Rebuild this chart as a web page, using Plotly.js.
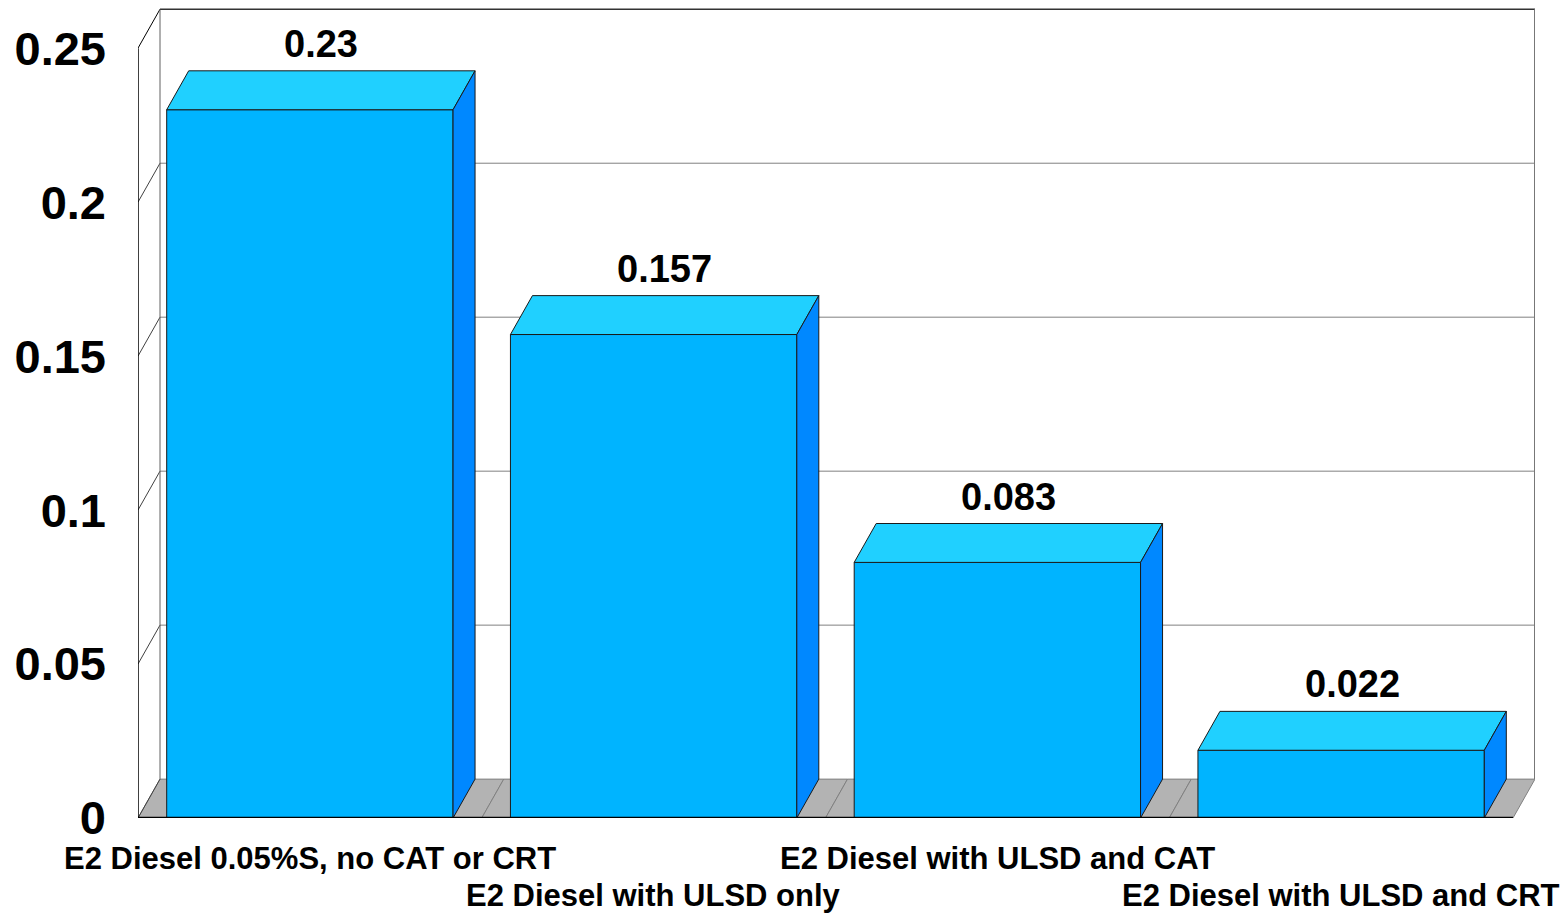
<!DOCTYPE html>
<html>
<head>
<meta charset="utf-8">
<script src="https://cdn.plot.ly/plotly-3.0.1.min.js"></script>
<style>html,body{margin:0;padding:0;background:#fff;}#chart{width:1566px;height:913px;}</style>
</head>
<body>
<div id="chart"></div>
<script>
// ---- data ----
const categories = [
  'E2 Diesel 0.05%S, no CAT or CRT',
  'E2 Diesel with ULSD only',
  'E2 Diesel with ULSD and CAT',
  'E2 Diesel with ULSD and CRT'
];
const values = [0.23, 0.157, 0.083, 0.022];
const valueLabels = ['0.23', '0.157', '0.083', '0.022'];
const yTickVals = [0, 0.05, 0.1, 0.15, 0.2, 0.25];
const yTickText = ['0', '0.05', '0.1', '0.15', '0.2', '0.25'];

// ---- 3D look parameters (depth in axis units) ----
const DX = 0.064;     // depth offset along x (category units)
const DY = 0.01263;   // depth offset along y (value units)
const BW = 0.833;     // bar width
const YMAX = 0.25;
const FONT = 'Arial, "Liberation Sans", sans-serif';

const xs = categories.map((c, i) => i);
const xMin = -0.5, xMax = categories.length - 0.5;

// ---- background shapes (floor, walls, grid) ----
const shapes = [];
// floor segments
xs.forEach(i => {
  const a = i - 0.5, b = i + 0.5;
  shapes.push({type: 'path', layer: 'below', xref: 'x', yref: 'y',
    path: `M${a},0 L${b},0 L${b + DX},${DY} L${a + DX},${DY} Z`,
    fillcolor: '#b3b3b3', line: {color: '#808080', width: 1}});
});
// gridlines on back wall + diagonals on left wall
yTickVals.forEach(v => {
  if (v > 0) {
    shapes.push({type: 'line', layer: 'below', xref: 'x', yref: 'y',
      x0: xMin + DX, x1: xMax + DX, y0: v + DY, y1: v + DY,
      line: {color: v === YMAX ? '#333333' : '#808080', width: v === YMAX ? 1.5 : 1}});
  }
  shapes.push({type: 'line', layer: 'below', xref: 'x', yref: 'y',
    x0: xMin, x1: xMin + DX, y0: v, y1: v + DY,
    line: {color: v === YMAX ? '#000000' : '#404040', width: 1}});
});
// back wall left edge
shapes.push({type: 'line', layer: 'below', xref: 'x', yref: 'y',
  x0: xMin + DX, x1: xMin + DX, y0: DY, y1: YMAX + DY, line: {color: '#606060', width: 1}});
// back wall right edge
shapes.push({type: 'line', layer: 'below', xref: 'x', yref: 'y',
  x0: xMax + DX, x1: xMax + DX, y0: DY, y1: YMAX + DY, line: {color: '#777777', width: 2}});
// left wall front edge
shapes.push({type: 'line', layer: 'above', xref: 'x', yref: 'y',
  x0: xMin, x1: xMin, y0: 0, y1: YMAX, line: {color: '#000000', width: 1.5}});
// front floor edge
shapes.push({type: 'line', layer: 'above', xref: 'x', yref: 'y',
  x0: xMin, x1: xMax, y0: 0, y1: 0, line: {color: '#000000', width: 2.5}});

// ---- bar faces ----
const topX = [], topY = [], sideX = [], sideY = [];
xs.forEach((i, k) => {
  const v = values[k], l = i - BW / 2, r = i + BW / 2;
  topX.push(l, r, r + DX, l + DX, l, null);
  topY.push(v, v, v + DY, v + DY, v, null);
  sideX.push(r, r + DX, r + DX, r, r, null);
  sideY.push(0, DY, v + DY, v, 0, null);
});

const traces = [
  {type: 'bar', x: xs, y: values, width: BW,
    marker: {color: '#00b4ff', line: {color: '#1a1a1a', width: 1}},
    hoverinfo: 'skip', showlegend: false},
  {type: 'scatter', mode: 'lines', x: topX, y: topY, fill: 'toself',
    fillcolor: '#20d0ff', line: {color: '#1a1a1a', width: 1},
    hoverinfo: 'skip', showlegend: false},
  {type: 'scatter', mode: 'lines', x: sideX, y: sideY, fill: 'toself',
    fillcolor: '#0088ff', line: {color: '#1a1a1a', width: 1},
    hoverinfo: 'skip', showlegend: false}
];

// ---- annotations ----
const annotations = [];
xs.forEach((i, k) => {
  annotations.push({x: i + DX / 2, y: values[k] + DY, xref: 'x', yref: 'y',
    text: valueLabels[k], showarrow: false, yanchor: 'middle', yshift: 27,
    font: {family: FONT, size: 38, color: '#000', weight: 'bold'}});
  annotations.push({x: i, y: 0, xref: 'x', yref: 'paper',
    text: categories[k], showarrow: false, yanchor: 'middle',
    yshift: k % 2 === 0 ? -40 : -77,
    font: {family: FONT, size: 31, color: '#000', weight: 'bold'}});
});

const layout = {
  width: 1566, height: 913,
  margin: {l: 138, r: 31, t: 8, b: 95},
  paper_bgcolor: '#ffffff', plot_bgcolor: '#ffffff',
  showlegend: false,
  xaxis: {range: [xMin, xMax + DX], showgrid: false, zeroline: false,
    showline: false, showticklabels: false, ticks: '', fixedrange: true},
  yaxis: {range: [0, YMAX + DY + 0.0004], showgrid: false, zeroline: false,
    showline: false, tickvals: yTickVals, ticktext: yTickText, ticks: '',
    ticklabelstandoff: 31,
    tickfont: {family: FONT, size: 47, color: '#000', weight: 'bold'}, fixedrange: true},
  shapes: shapes,
  annotations: annotations
};

Plotly.newPlot('chart', traces, layout, {displayModeBar: false, staticPlot: true});
</script>
</body>
</html>
